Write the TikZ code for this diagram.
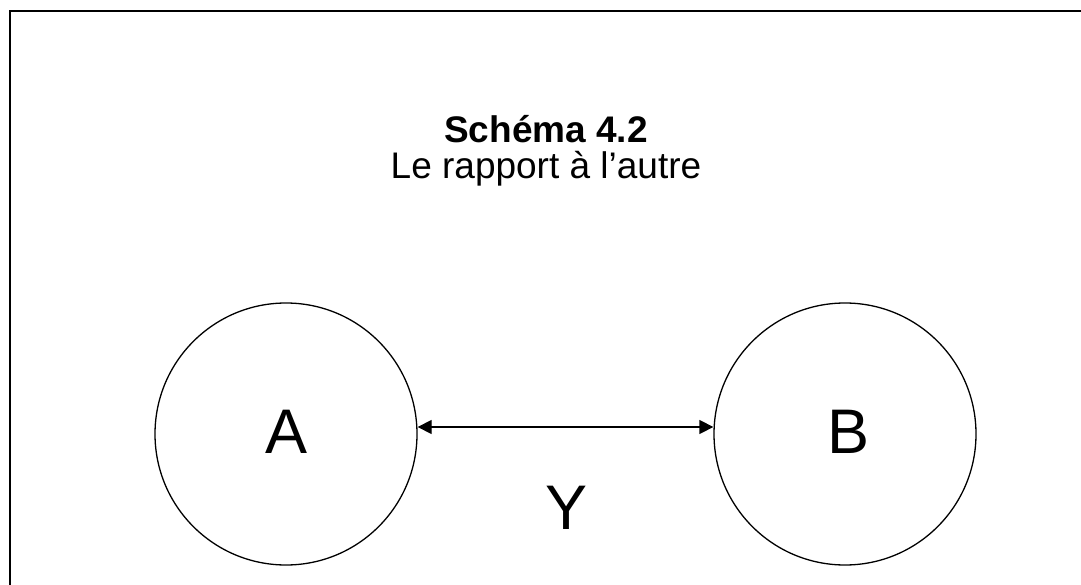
\documentclass[tikz,border=0pt]{standalone}
\usepackage{fontspec}
\setmainfont{Liberation Sans}
\usetikzlibrary{arrows.meta}
\begin{document}
\begin{tikzpicture}[x=1pt,y=-1pt,
  party/.style={circle,draw,line width=1.3pt,minimum size=262pt,inner sep=0pt},
  bigletter/.style={font=\fontsize{63}{63}\selectfont,inner sep=0pt,anchor=base},
  heading/.style={anchor=base,inner sep=0pt,font=\fontsize{36}{36}\selectfont},
  link/.style={line width=1.3pt,{Triangle[length=14pt,width=14pt]}-{Triangle[length=14pt,width=14pt]}}]
  \useasboundingbox (0,0) rectangle (1081,585);
  % frame (open at the right and bottom)
  \draw[line width=1.8pt] (10,590) -- (10,11) -- (1090,11);
  % title
  \node[heading,font=\fontsize{37}{37}\selectfont\bfseries] (title) at (546,143) {Schéma 4.2};
  \node[heading,font=\fontsize{37}{37}\selectfont] (subtitle) at (546,179) {Le rapport à l’autre};
  % the two parties
  \node[party] (A) at (286,434) {};
  \node[party] (B) at (845,434) {};
  \node[bigletter] (la) at (287,453) {A};
  \node[bigletter] (lb) at (848,453) {B};
  % the relation between them
  \coordinate (p) at (0,427);
  \draw[link] (A.east |- p) -- (B.west |- p);
  \node[bigletter] (ly) at (567,529) {Y};
\end{tikzpicture}
\end{document}
